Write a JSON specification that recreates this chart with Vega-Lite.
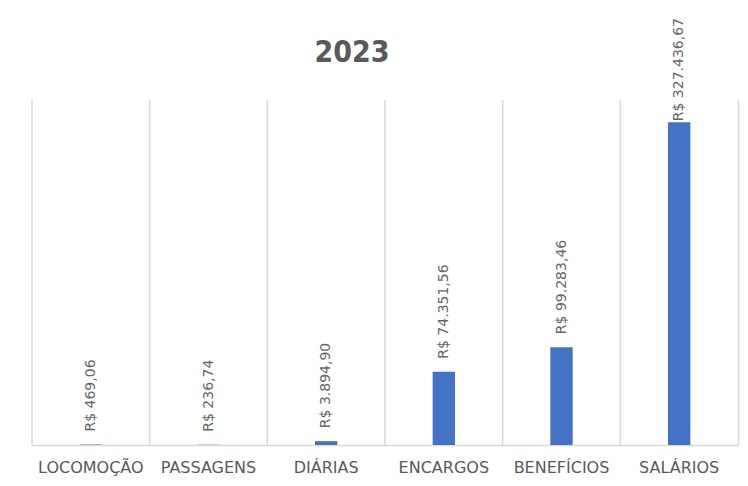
{
  "$schema": "https://vega.github.io/schema/vega-lite/v6.json",
  "width": 706,
  "height": 345,
  "autosize": "none",
  "padding": {"left": 32, "top": 100, "right": 10, "bottom": 41},
  "background": "white",
  "config": {
    "view": {"stroke": null},
    "locale": {
      "number": {"decimal": ",", "thousands": ".", "grouping": [3], "currency": ["R$ ", ""]}
    }
  },
  "title": {
    "text": "2023",
    "anchor": "middle",
    "dx": -33,
    "offset": -50,
    "font": "DejaVu Sans Condensed, Liberation Sans Narrow, DejaVu Sans",
    "fontSize": 30,
    "fontWeight": "bold",
    "color": "#595959"
  },
  "data": {
    "values": [
      {"categoria": "LOCOMOÇÃO", "valor": 469.06},
      {"categoria": "PASSAGENS", "valor": 236.74},
      {"categoria": "DIÁRIAS", "valor": 3894.90},
      {"categoria": "ENCARGOS", "valor": 74351.56},
      {"categoria": "BENEFÍCIOS", "valor": 99283.46},
      {"categoria": "SALÁRIOS", "valor": 327436.67}
    ]
  },
  "encoding": {
    "x": {
      "field": "categoria",
      "type": "nominal",
      "sort": null,
      "scale": {"paddingInner": 0, "paddingOuter": 0},
      "axis": {
        "title": null,
        "labelAngle": 0,
        "ticks": false,
        "grid": false,
        "domainColor": "#D9D9D9",
        "domainWidth": 1.5,
        "labelPadding": 14,
        "labelFont": "DejaVu Sans",
        "labelFontSize": 16,
        "labelColor": "#595959"
      }
    },
    "y": {
      "field": "valor",
      "type": "quantitative",
      "scale": {"domain": [0, 350000], "nice": false},
      "axis": {
        "orient": "right",
        "title": null,
        "labels": false,
        "ticks": false,
        "grid": false,
        "domain": true,
        "domainColor": "#D9D9D9",
        "domainWidth": 1.5
      }
    }
  },
  "layer": [
    {
      "mark": {"type": "rule", "color": "#D9D9D9", "strokeWidth": 1.5},
      "encoding": {
        "x": {"field": "categoria", "type": "nominal", "sort": null, "bandPosition": 0},
        "y": null
      }
    },
    {
      "mark": {"type": "bar", "color": "#4472C4", "width": {"band": 0.19}}
    },
    {
      "transform": [{"filter": "datum.valor < 300000"}],
      "mark": {
        "type": "text",
        "angle": 270,
        "align": "left",
        "baseline": "middle",
        "dx": 13,
        "font": "DejaVu Sans",
        "fontSize": 14,
        "color": "#666666"
      },
      "encoding": {
        "text": {"field": "valor", "type": "quantitative", "format": "$,.2f"}
      }
    },
    {
      "transform": [{"filter": "datum.valor >= 300000"}],
      "mark": {
        "type": "text",
        "angle": 270,
        "align": "left",
        "baseline": "middle",
        "dx": 1,
        "font": "DejaVu Sans",
        "fontSize": 14,
        "color": "#666666"
      },
      "encoding": {
        "text": {"field": "valor", "type": "quantitative", "format": "$,.2f"}
      }
    }
  ]
}
